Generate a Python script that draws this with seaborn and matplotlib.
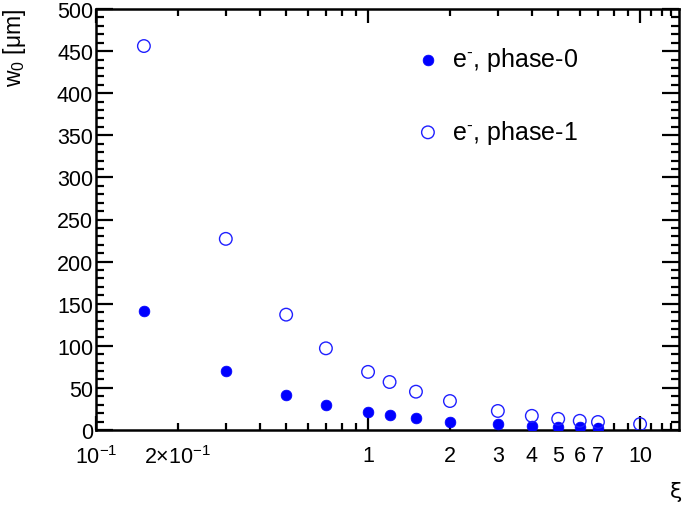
import numpy as np
import pandas as pd
import matplotlib
matplotlib.use("Agg")
import matplotlib.pyplot as plt
import seaborn as sns
from matplotlib.ticker import FixedLocator, NullFormatter

# ---- data ----
xi_phase0 = [0.15, 0.3, 0.5, 0.7, 1.0, 1.2, 1.5, 2, 3, 4, 5, 6, 7]
w0_phase0 = [141, 70.5, 41.6, 29.7, 21.4, 17.8, 14.3, 9.6, 7.1, 4.9, 3.8, 3.6, 2.6]
xi_phase1 = [0.15, 0.3, 0.5, 0.7, 1.0, 1.2, 1.5, 2, 3, 4, 5, 6, 7, 10]
w0_phase1 = [456, 227, 137, 97, 69, 57, 45.5, 34.4, 22.6, 16.8, 13.2, 10.9, 9.5, 7.0]
labels = ["e$^{\\text{-}}$, phase-0", "e$^{\\text{-}}$, phase-1"]
xtick_vals = [0.1, 0.2, 1, 2, 3, 4, 5, 6, 7, 10]
xtick_labels = ["$10^{-1}$", "$2{\\times}10^{-1}$", "1", "2", "3", "4", "5", "6", "7", "10"]

sns.set_theme(style="ticks")
plt.rcParams["font.family"] = ["Liberation Sans", "DejaVu Sans"]
plt.rcParams["mathtext.fontset"] = "custom"
plt.rcParams["mathtext.rm"] = "Liberation Sans"
plt.rcParams["mathtext.it"] = "Liberation Sans"
plt.rcParams["mathtext.default"] = "regular"
for k in ["text.color", "xtick.color", "ytick.color", "axes.labelcolor", "axes.edgecolor"]:
    plt.rcParams[k] = "black"

df0 = pd.DataFrame({"xi": xi_phase0, "w0": w0_phase0})
df1 = pd.DataFrame({"xi": xi_phase1, "w0": w0_phase1})

fig = plt.figure(figsize=(6.85, 5.06), dpi=100)
ax = fig.add_axes([96/685, (506-431)/506, (679-96)/685, (431-10)/506])

sns.scatterplot(data=df0, x="xi", y="w0", ax=ax, marker="o", s=60,
                color="#0000ff", edgecolor="#0000ff", linewidth=0.5,
                label=labels[0], zorder=3)
sns.scatterplot(data=df1, x="xi", y="w0", ax=ax, marker="o", s=82,
                facecolors="none", edgecolor="#2020ff", linewidth=1.0,
                label=labels[1], zorder=3)

ax.set_xscale("log")
ax.set_xlim(0.1, 13.9)
ax.set_ylim(0, 500)

# x ticks
ax.xaxis.set_major_locator(FixedLocator([0.1, 1, 10]))
minors = [m * d for d in (0.1, 1) for m in range(2, 10)] + [11, 12, 13]
ax.xaxis.set_minor_locator(FixedLocator(minors))
ax.xaxis.set_major_formatter(NullFormatter())
ax.xaxis.set_minor_formatter(NullFormatter())
for v, lab in zip(xtick_vals, xtick_labels):
    ax.text(v, -0.035, lab, transform=ax.get_xaxis_transform(),
            ha="center", va="top", fontsize=15.5, color="black")

# y ticks
ax.set_yticks(np.arange(0, 501, 50))
ax.set_yticks(np.arange(0, 501, 10), minor=True)
ax.tick_params(axis="y", which="major", labelsize=15.5, pad=2)

ax.tick_params(which="both", direction="in", top=True, right=True, width=1.6,
               color="black", labelcolor="black")
ax.tick_params(axis="x", which="major", length=10)
ax.tick_params(axis="x", which="minor", length=5)
ax.tick_params(axis="y", which="major", length=12)
ax.tick_params(axis="y", which="minor", length=6)
for sp in ax.spines.values():
    sp.set_linewidth(1.8)
    sp.set_color("black")

ax.set_xlabel("")
ax.set_ylabel("")
fig.text(15/685, 1 - 9/506, "w$_{0}$ [μm]", rotation=90, ha="center", va="top",
         fontsize=16.5, color="black")
fig.text(682/685, 1 - 492/506, "ξ", ha="right", va="center", fontsize=16,
         family=["DejaVu Sans"], color="black")

leg = ax.legend(loc="upper left", bbox_to_anchor=(0.505, 0.967), frameon=False,
                fontsize=18, labelspacing=1.78, handlelength=1.2, handletextpad=0.35,
                markerscale=1.0, labelcolor="black")

fig.savefig("out.png", dpi=100)
